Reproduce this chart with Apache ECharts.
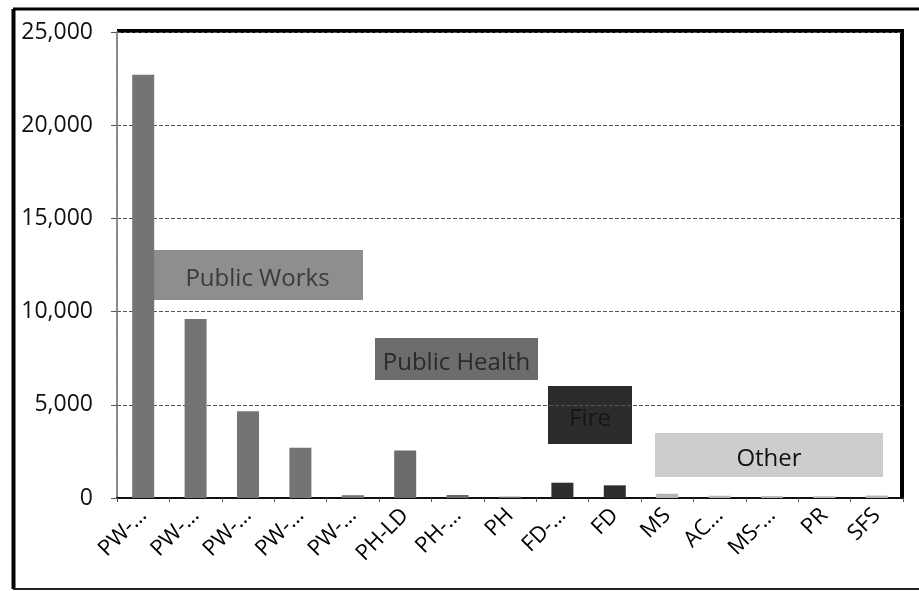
<!DOCTYPE html>
<html>
<head>
<meta charset="utf-8">
<script src="https://cdn.jsdelivr.net/npm/echarts@6/dist/echarts.min.js"></script>
<style>
  html, body { margin: 0; padding: 0; background: #fff; }
  #chart { width: 919px; height: 591px; }
</style>
</head>
<body>
<div id="chart"></div>
<script>
// categories along the x axis (truncated as in the source)
const categories = ['PW-…', 'PW-…', 'PW-…', 'PW-…', 'PW-…', 'PH-LD', 'PH-…', 'PH', 'FD-…', 'FD', 'MS', 'AC…', 'MS-…', 'PR', 'SFS']
// values
const values = [22700, 9600, 4650, 2700, 150, 2550, 160, 70, 820, 680, 230, 120, 100, 90, 130]
// department group of each bar
const groups = ['PW', 'PW', 'PW', 'PW', 'PW', 'PH', 'PH', 'PH', 'FD', 'FD', 'OT', 'OT', 'OT', 'OT', 'OT']
// y axis ticks
const yTicks = [0, 5000, 10000, 15000, 20000, 25000]

const groupColors = { PW: '#747474', PH: '#6a6a6a', FD: '#2e2e2e', OT: '#b4b4b4' }

const chart = echarts.init(document.getElementById('chart'))

// annotation box helper (text boxes drawn over the plot)
function box(x, y, w, h, fill, text, textColor) {
  return {
    type: 'group',
    left: x,
    top: y,
    children: [
      { type: 'rect', shape: { x: 0, y: 0, width: w, height: h }, style: { fill: fill } },
      {
        type: 'text',
        style: {
          x: w / 2, y: h / 2 + 4, text: text, fill: textColor,
          font: '24px "Open Sans"', align: 'center', verticalAlign: 'middle'
        }
      }
    ]
  }
}

const option = {
  animation: false,
  backgroundColor: '#fff',
  grid: { left: 117, right: 16, top: 32, bottom: 93 },
  xAxis: {
    type: 'category',
    data: categories,
    axisLine: { lineStyle: { color: '#111', width: 2 } },
    axisTick: { show: true, alignWithLabel: false, length: 4, lineStyle: { color: '#555' } },
    axisLabel: {
      rotate: 45,
      margin: 14,
      interval: 0,
      color: '#000',
      fontSize: 22,
      fontFamily: 'Open Sans'
    }
  },
  yAxis: {
    type: 'value',
    min: yTicks[0],
    max: yTicks[yTicks.length - 1],
    interval: 5000,
    axisLine: { show: true, lineStyle: { color: '#888', width: 2, type: [2, 1] } },
    axisTick: { show: true, length: 6, lineStyle: { color: '#555' } },
    axisLabel: {
      margin: 24,
      color: '#111',
      fontSize: 23,
      fontFamily: 'Open Sans',
      formatter: v => v.toLocaleString('en-US')
    },
    splitLine: { lineStyle: { color: '#555', width: 1, type: [4, 2] } }
  },
  series: [{
    type: 'bar',
    barWidth: 22,
    data: values.map((v, i) => ({ value: v, itemStyle: { color: groupColors[groups[i]] } }))
  }],
  graphic: [
    // outer frame
    { type: 'line', shape: { x1: 13, y1: 9, x2: 919, y2: 9 }, style: { stroke: '#000', lineWidth: 3 } },
    { type: 'line', shape: { x1: 13.5, y1: 9, x2: 13.5, y2: 589 }, style: { stroke: '#000', lineWidth: 4 } },
    { type: 'line', shape: { x1: 13, y1: 589, x2: 919, y2: 589 }, style: { stroke: '#222', lineWidth: 2 } },
    // plot area top and right borders
    { type: 'line', shape: { x1: 117, y1: 31, x2: 904, y2: 31 }, style: { stroke: '#000', lineWidth: 4 } },
    { type: 'line', shape: { x1: 902, y1: 29, x2: 902, y2: 499 }, style: { stroke: '#000', lineWidth: 4 } },
    // group labels
    box(152, 250, 211, 50, '#8e8e8e', 'Public Works', '#3a3a3a'),
    box(375, 338, 163, 42, '#6c6c6c', 'Public Health', '#2a2a2a'),
    box(548, 386, 84, 58, '#2c2c2c', 'Fire', '#151515'),
    box(655, 433, 228, 44, '#cdcdcd', 'Other', '#111')
  ]
}

chart.setOption(option)
</script>
</body>
</html>
